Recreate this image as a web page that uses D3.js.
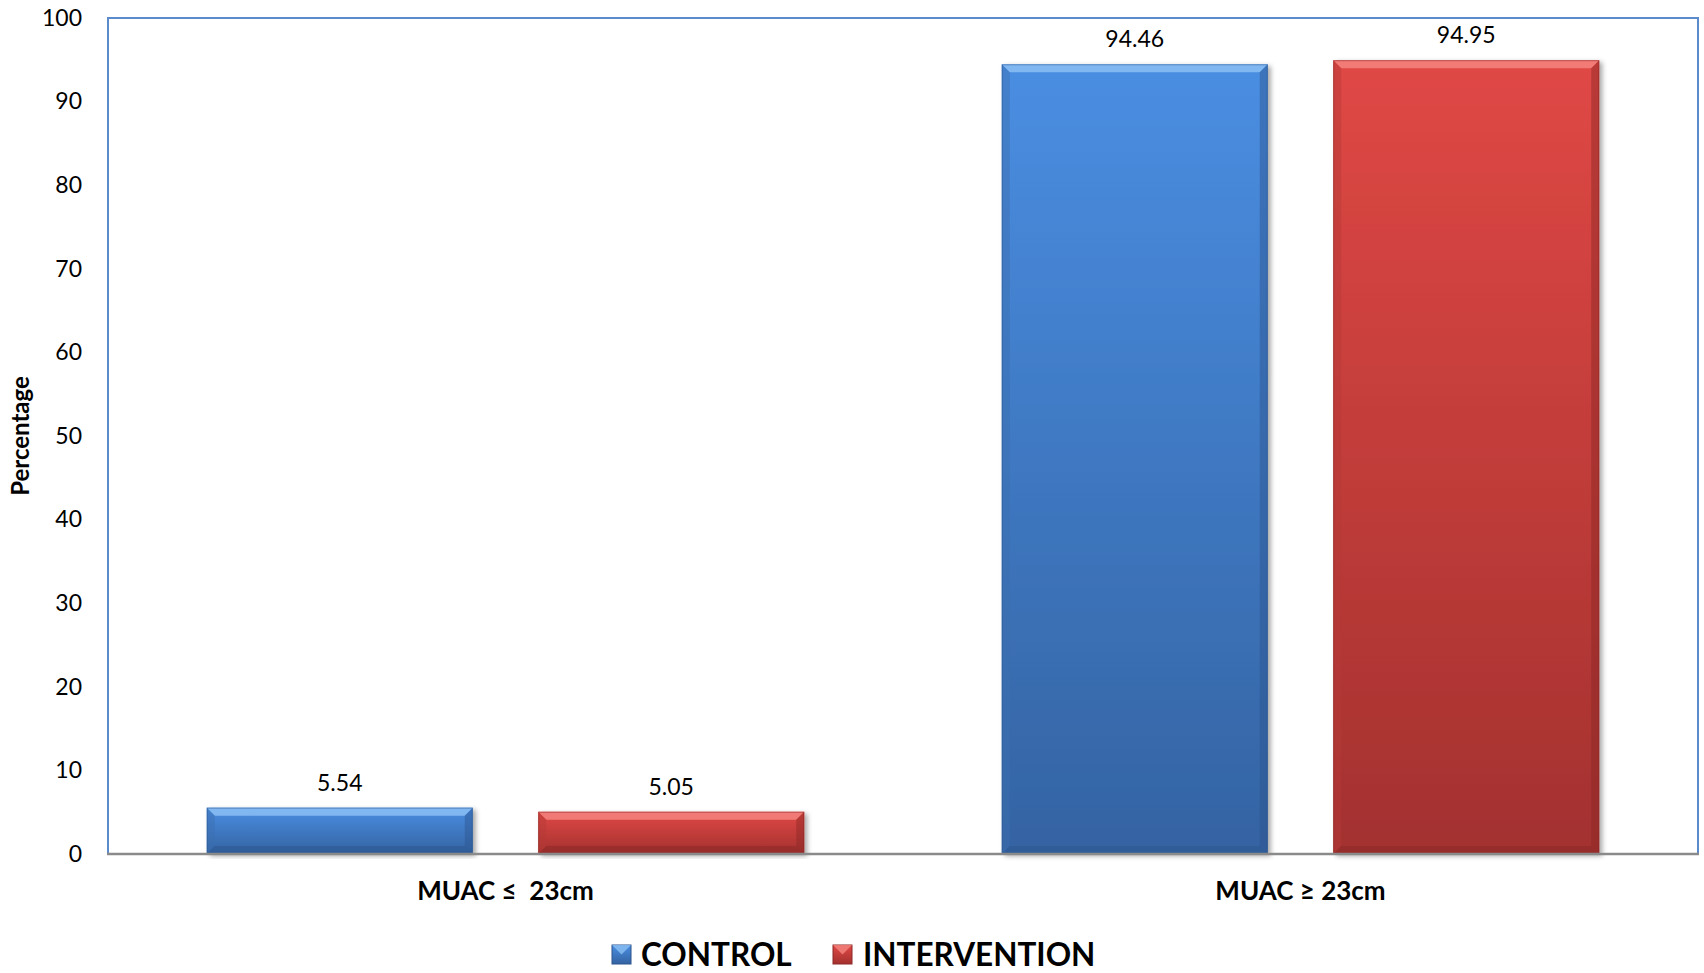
<!DOCTYPE html>
<html>
<head>
<meta charset="utf-8">
<script src="https://cdn.jsdelivr.net/npm/d3@7"></script>
<style>
  html, body { margin: 0; padding: 0; background: #fff; }
  svg { display: block; font-family: Lato, "Open Sans", sans-serif; }
  .cat-label { white-space: pre; }
</style>
</head>
<body>
<svg id="chart" width="1704" height="973"></svg>
<script>
// MUAC distribution by study group
const categories = ["MUAC \u2264  23cm", "MUAC \u2265 23cm"];
const seriesNames = ["CONTROL", "INTERVENTION"];
const controlValues = [5.54, 94.46];
const interventionValues = [5.05, 94.95];
const yTicks = [0, 10, 20, 30, 40, 50, 60, 70, 80, 90, 100];

const seriesValues = [controlValues, interventionValues];
const palette = {
  CONTROL: { top: "#4a8ee2", bottom: "#3463a2", light: "#8cc0f4", dark: "#2c558e", edge: "#3b6fb0" },
  INTERVENTION: { top: "#e04845", bottom: "#a3312f", light: "#f5847f", dark: "#8a2826", edge: "#b43a37" }
};

const svg = d3.select("#chart");
const plot = { left: 108, right: 1698, top: 18, bottom: 854 };

const x0 = d3.scaleBand().domain(categories).range([plot.left, plot.right]);
const x1 = d3.scaleBand().domain(seriesNames).range([0, x0.bandwidth()])
  .paddingInner(0.1976).paddingOuter(0.298);
const y = d3.scaleLinear().domain([0, 100]).range([plot.bottom, plot.top]);

const defs = svg.append("defs");
seriesNames.forEach((s, i) => {
  const g = defs.append("linearGradient").attr("id", "grad" + i)
    .attr("x1", 0).attr("y1", 0).attr("x2", 0).attr("y2", 1);
  g.append("stop").attr("offset", "0%").attr("stop-color", palette[s].top);
  g.append("stop").attr("offset", "100%").attr("stop-color", palette[s].bottom);
});
const shadow = defs.append("filter").attr("id", "shadow")
  .attr("x", "-5%").attr("y", "-5%").attr("width", "115%").attr("height", "115%");
shadow.append("feDropShadow").attr("dx", 3).attr("dy", 2).attr("stdDeviation", 2.5)
  .attr("flood-color", "#000").attr("flood-opacity", 0.35);

// y axis tick labels
const yAxis = svg.append("g").attr("transform", `translate(${plot.left},0)`)
  .call(d3.axisLeft(y).tickValues(yTicks).tickSize(0).tickPadding(26));
yAxis.select(".domain").remove();
yAxis.selectAll("text").attr("font-size", 23).attr("fill", "#000")
  .attr("font-family", "Lato, sans-serif");

// y axis title
svg.append("text")
  .attr("transform", `translate(29,${(plot.top + plot.bottom) / 2}) rotate(-90)`)
  .attr("text-anchor", "middle").attr("font-weight", "bold").attr("font-size", 24)
  .text("Percentage");

// bars
const bevel = 8;
const groups = svg.append("g").selectAll("g").data(categories).join("g")
  .attr("transform", d => `translate(${x0(d)},0)`);

groups.each(function (cat, ci) {
  const g = d3.select(this);
  seriesNames.forEach((s, si) => {
    const v = seriesValues[si][ci];
    const bx = x1(s), bw = x1.bandwidth();
    const by = y(v), bh = y(0) - y(v);
    const c = palette[s];
    const bar = g.append("g");
    bar.append("rect").attr("x", bx).attr("y", by).attr("width", bw).attr("height", bh)
      .attr("fill", `url(#grad${si})`).attr("filter", "url(#shadow)");
    // top bevel
    bar.append("path")
      .attr("d", `M${bx},${by} L${bx + bw},${by} L${bx + bw - bevel},${by + bevel} L${bx + bevel},${by + bevel} Z`)
      .attr("fill", c.light).attr("opacity", 0.85);
    // left bevel
    bar.append("path")
      .attr("d", `M${bx},${by} L${bx + bevel},${by + bevel} L${bx + bevel},${by + bh - bevel} L${bx},${by + bh} Z`)
      .attr("fill", c.edge).attr("opacity", 0.45);
    // right bevel
    bar.append("path")
      .attr("d", `M${bx + bw},${by} L${bx + bw - bevel},${by + bevel} L${bx + bw - bevel},${by + bh - bevel} L${bx + bw},${by + bh} Z`)
      .attr("fill", c.dark).attr("opacity", 0.45);
    // bottom bevel
    bar.append("path")
      .attr("d", `M${bx},${by + bh} L${bx + bevel},${by + bh - bevel} L${bx + bw - bevel},${by + bh - bevel} L${bx + bw},${by + bh} Z`)
      .attr("fill", c.dark).attr("opacity", 0.5);
    bar.append("rect").attr("x", bx + 0.5).attr("y", by + 0.5).attr("width", bw - 1).attr("height", bh - 1)
      .attr("fill", "none").attr("stroke", c.dark).attr("stroke-opacity", 0.5).attr("stroke-width", 1);
    // value label
    g.append("text").attr("x", bx + bw / 2).attr("y", by - 17)
      .attr("text-anchor", "middle").attr("font-size", 23).attr("fill", "#000")
      .text(v.toFixed(2));
  });
});

// plot frame
svg.append("path")
  .attr("d", `M${plot.left},${plot.bottom} L${plot.left},${plot.top} L${plot.right},${plot.top} L${plot.right},${plot.bottom}`)
  .attr("fill", "none").attr("stroke", "#5b8bcb").attr("stroke-width", 2);
svg.append("line").attr("x1", plot.left - 1).attr("x2", plot.right + 1)
  .attr("y1", plot.bottom).attr("y2", plot.bottom)
  .attr("stroke", "#8a8a8a").attr("stroke-width", 2.5);

// category labels
svg.append("g").selectAll("text").data(categories).join("text")
  .attr("class", "cat-label")
  .attr("x", d => x0(d) + x0.bandwidth() / 2).attr("y", 900)
  .attr("text-anchor", "middle").attr("font-weight", "bold").attr("font-size", 26)
  .text(d => d);

// legend
const legendItems = [
  { name: seriesNames[0], sx: 612, tx: 641 },
  { name: seriesNames[1], sx: 833, tx: 863 }
];
const legend = svg.append("g");
legendItems.forEach((item, i) => {
  const c = palette[item.name];
  const sz = 19, sy = 945;
  legend.append("rect").attr("x", item.sx).attr("y", sy).attr("width", sz).attr("height", sz)
    .attr("fill", `url(#grad${i})`).attr("stroke", c.dark).attr("stroke-width", 1);
  legend.append("path")
    .attr("d", `M${item.sx},${sy} L${item.sx + sz},${sy} L${item.sx + sz / 2},${sy + sz / 2} Z`)
    .attr("fill", c.light).attr("opacity", 0.8);
  legend.append("text").attr("x", item.tx).attr("y", 966)
    .attr("font-weight", "bold").attr("font-size", 31.5).attr("fill", "#000")
    .text(item.name);
});
</script>
</body>
</html>
